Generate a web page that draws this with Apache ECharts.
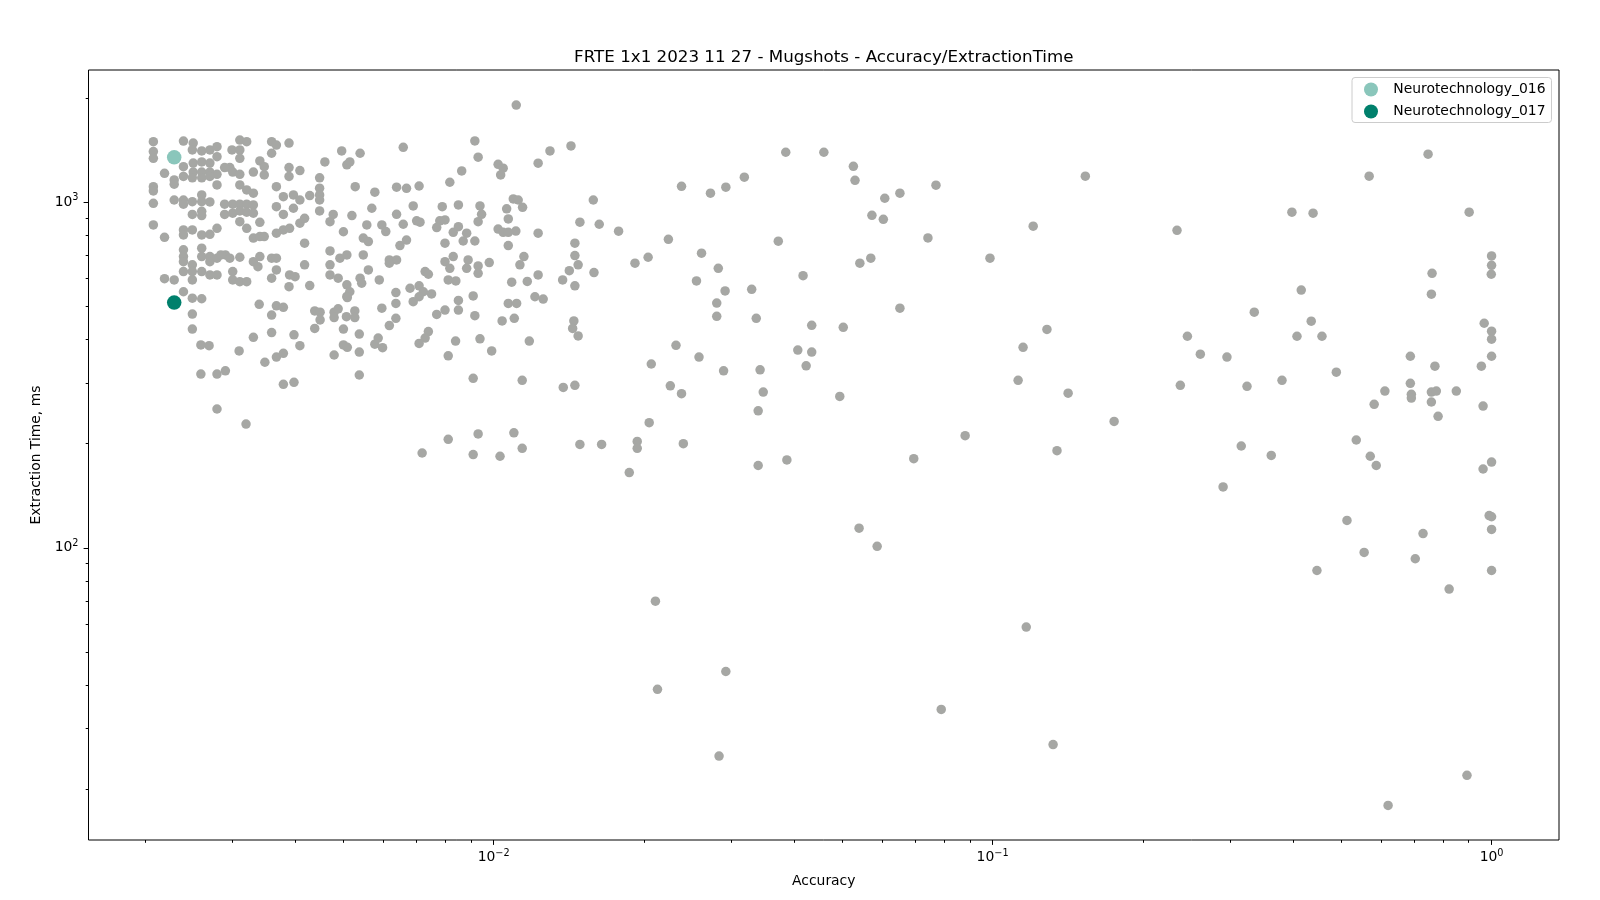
<!DOCTYPE html>
<html>
<head>
<meta charset="utf-8">
<script src="https://cdn.jsdelivr.net/npm/echarts@6/dist/echarts.min.js"></script>
<style>
html,body{margin:0;padding:0;background:#ffffff;}
#chart{width:1600px;height:900px;}
</style>
</head>
<body>
<div id="chart"></div>
<script>
// ---------- DATA ----------
const chartTitle = 'FRTE 1x1 2023 11 27 - Mugshots - Accuracy/ExtractionTime';
const xAxisName = 'Accuracy';
const yAxisName = 'Extraction Time, ms';
const legendNames = ['Neurotechnology_016', 'Neurotechnology_017'];

// other algorithms (grey points): accuracy and extraction time (ms), parallel arrays
const otherAccuracy = [
  0.00208,0.00208,0.00208,0.00208,0.00208,0.00208,0.00208,0.00219,0.00219,0.00239,
  0.0025,0.00249,0.0026,0.0027,0.00279,0.00279,0.00239,0.0025,0.0026,0.0027,
  0.0025,0.0026,0.0027,0.00279,0.00239,0.00249,0.0026,0.0027,0.00229,0.00229,
  0.00279,0.00229,0.00239,0.00239,0.00249,0.0026,0.0026,0.0027,0.0026,0.00249,
  0.0026,0.00279,0.00239,0.00249,0.00239,0.0026,0.0027,0.00239,0.00239,0.00239,
  0.0026,0.0026,0.0027,0.0027,0.00279,0.0029,0.00249,0.00249,0.0026,0.0027,
  0.00279,0.00239,0.00249,0.00219,0.00229,0.00239,0.00249,0.0026,
  0.0031,0.0032,0.00299,0.0031,0.0031,0.00296,0.00289,0.003,0.0031,0.0033,
  0.0034,0.00347,0.00347,0.00359,0.00367,0.00389,0.00359,0.00389,0.00409,0.00389,
  0.00459,0.00448,0.00448,0.00448,0.00448,0.00428,0.00379,0.00397,0.00367,0.0031,
  0.0032,0.0033,0.00289,0.003,0.0031,0.0032,0.0033,0.00289,0.003,0.0031,
  0.0032,0.0033,0.0031,0.0032,0.0034,0.0033,0.0034,0.00347,0.00367,0.00367,
  0.00379,0.0039,0.00379,0.00397,0.00409,0.00409,0.00418,0.00418,0.00448,0.0047,
  0.00477,0.00496,0.00508,0.00515,0.0054,0.00528,0.0052,0.005,0.00557,
  0.0031,0.0033,0.00337,0.0034,0.00359,0.00367,0.00367,0.00359,0.0039,0.004,
  0.00418,0.00389,0.00428,0.0047,0.0047,0.0047,0.00488,0.00492,0.00508,0.00508,
  0.00515,0.00508,0.0054,0.00544,0.00548,0.00548,0.00561,0.00561,0.003,0.003,
  0.0031,0.0032,0.00284,0.00296,
  0.00249,0.00249,0.00259,0.00269,0.00259,0.00279,0.0029,0.00279,0.00319,0.00309,
  0.0033,0.00339,0.00359,0.00367,0.00379,0.00359,0.00348,0.00367,0.00379,0.00398,
  0.00409,0.00379,0.00398,0.00438,0.00449,0.00449,0.00438,0.00479,0.00488,0.00479,
  0.00507,0.00527,0.00527,0.005,0.00538,0.00509,0.005,0.00509,0.00479,0.00538,
  0.00538,0.00578,
  0.00659,0.00917,0.00931,0.00863,0.00817,0.01021,0.01045,0.01033,0.01228,0.01297,
  0.01429,0.01584,0.01489,0.01628,0.00578,0.00639,0.00669,0.00709,0.0057,0.00639,
  0.0069,0.00659,0.00701,0.00712,0.00597,0.00608,0.00669,0.00649,0.00618,0.00639,
  0.00618,0.0059,0.00729,0.0074,0.00637,0.0068,0.00709,0.00723,0.00751,0.00709,
  0.0069,0.00637,0.00789,0.0085,0.00939,0.00946,0.00931,0.0078,0.00799,0.00769,
  0.0083,0.0085,0.00883,0.00869,0.00917,0.00799,0.0083,0.00799,0.00817,0.00889,
  0.00883,0.00931,0.00931,0.0098,0.00811,0.0084,0.0091,0.0085,0.01062,0.01095,
  0.0112,0.01143,0.0107,0.01021,0.01045,0.0107,0.01108,0.0107,0.01228,0.0115,
  0.01129,0.01228,0.01087,0.01168,0.0121,0.01257,0.0107,0.01112,0.01455,0.01455,
  0.01477,0.01418,0.01375,0.01455,0.01589,
  0.00597,0.0085,0.00799,0.00769,0.00917,0.00637,0.00618,0.00587,0.00599,0.0074,
  0.00729,0.00709,0.00839,0.00811,0.00939,0.00991,0.0104,0.011,0.01179,0.01448,
  0.0144,0.01477,0.0091,0.01141,0.01379,0.01455,0.00811,0.00931,0.01098,0.00719,
  0.0091,0.0103,0.01141,0.01489,0.01646,
  0.0111,
  0.0385,0.0459,0.0526,0.053,0.0318,0.0238,0.0272,0.0292,0.077,0.0608,
  0.0652,0.0573,0.0604,0.0742,0.0988,0.0178,0.0224,0.0372,0.0261,0.0204,
  0.0192,0.0282,0.0255,0.0417,0.0542,0.057,0.0291,0.0329,0.028,0.028,
  0.0336,0.0652,0.0434,0.0502,0.0232,0.0258,0.0207,0.0289,0.0342,0.0407,
  0.0434,0.0423,0.0226,0.0238,0.0347,0.0339,0.0494,0.0205,0.0194,0.0194,
  0.024,0.0187,0.0339,0.0387,0.0695,0.0881,
  0.054,0.0587,0.0211,0.0292,0.0213,0.0789,0.0283,
  0.746,0.1534,0.5684,0.1206,0.2342,0.398,0.4388,0.9018,1.0,1.0,
  0.9986,0.7599,0.7575,0.4155,0.3345,0.4351,0.4074,0.4572,0.2457,0.1285,
  0.1151,0.2608,0.2949,0.9665,1.0,1.0,1.0,0.954,0.6874,0.77,
  0.1125,0.1417,0.2378,0.3235,0.3802,0.4885,0.6874,0.6112,0.6906,0.6906,
  0.7575,0.775,0.8498,0.7575,0.5817,0.7813,0.9616,0.1752,0.1346,0.315,
  0.3618,0.5356,0.5713,0.5873,1.0,0.9616,0.2897,
  0.5131,0.7289,0.5554,0.7032,0.4467,0.989,1.0,1.0,1.0,0.8222,
  0.1168,0.1322,0.8927,0.6203
];
const otherTimeMs = [
  1494,1398,1337,1107,1076,991,858,1210,790,1500,
  1480,1414,1404,1414,1445,1352,1265,1295,1305,1295,
  1220,1220,1220,1202,1185,1174,1174,1185,1158,1125,
  1120,1013,1013,985,1002,1048,1002,1000,940,920,
  913,839,830,830,803,803,806,727,695,672,
  735,695,695,672,688,703,658,629,629,615,
  615,629,595,600,595,550,527,525,
  1510,1494,1414,1414,1337,1257,1257,1220,1202,1220,
  1314,1265,1197,1494,1460,1480,1383,1257,1232,1185,
  1305,1174,1096,1048,1013,1043,1036,1048,1107,1120,
  1083,1060,985,985,985,985,980,920,928,942,
  934,928,877,839,873,786,794,794,969,812,
  830,839,920,959,1013,868,897,760,942,877,
  920,1404,1280,1305,1383,1107,913,820,858,
  692,672,650,695,688,688,636,602,615,608,
  658,569,573,722,658,615,602,688,703,576,
  550,533,602,582,703,786,768,636,629,595,
  588,588,703,688,
  474,429,386,384,318,318,325,252,228,371,
  406,506,471,501,496,419,344,356,365,413,
  384,297,301,484,480,456,431,480,491,463,
  466,484,463,429,415,529,386,380,361,368,
  316,388,
  1439,1501,1347,1229,1140,1285,1252,1197,1294,1404,
  1452,1013,874,862,1067,1103,1095,1112,959,921,
  974,862,882,874,858,821,776,748,680,680,
  665,595,629,618,547,563,572,550,542,532,
  515,509,969,980,974,921,877,882,887,843,
  817,848,812,771,771,760,695,672,643,680,
  643,653,622,668,595,591,535,519,955,1020,
  1013,965,893,835,817,817,824,748,812,695,
  658,615,586,589,532,524,509,509,760,700,
  658,633,595,572,625,
  493,487,487,473,469,461,439,404,379,422,
  404,390,396,359,402,371,453,461,396,453,
  431,410,309,305,291,295,206,213.5,215,188,
  186,184,194,199,199,
  1906,
  1392,1392,1268,1155,1179,1110,1060,1103,1118,1025,
  1060,915,891,787,688,823,780,770,711,692,
  665,643,591,612,665,688,553,559,510,467,
  461,493,440,434,385,356,340,325,327,373,
  368,336,294,279,282,249,274,230,203,194,
  200,165,173,179.5,181,211,
  114,101,70.1,43.9,39.0,34.1,25.0,
  1374,1187,1187,851,828,934,928,934,698,656,
  618,622,541,556,480,452,409,409,409,428,
  380,363,356,446,423,401,358,335,358,335,
  305,280,295,293,305,322,299,284,278,271,
  282,284,284,264,260,240,257,232,191,197,
  185,205,184,173,177,169,150,
  120,110,97,93,86,124,123,113,86,76,
  59,27,22,18
];

// highlighted algorithms
const neuro016Accuracy = [0.00229];
const neuro016TimeMs = [1346];
const neuro017Accuracy = [0.00229];
const neuro017TimeMs = [512];

// axis ticks (data units)
const xMajorTicks = [0.01, 0.1, 1];
const yMajorTicks = [100, 1000];
const xMinorTicks = [0.002,0.003,0.004,0.005,0.006,0.007,0.008,0.009,
                     0.02,0.03,0.04,0.05,0.06,0.07,0.08,0.09,
                     0.2,0.3,0.4,0.5,0.6,0.7,0.8,0.9];
const yMinorTicks = [20,30,40,50,60,70,80,90,200,300,400,500,600,700,800,900,2000];
// visible axis range (data units)
const xRange = [0.001542, 1.365];
const yRange = [14.3, 2407];

// ---------- CHART ----------
const FONT = 'DejaVu Sans';
const lg = Math.log10;
const toPairs = (xs, ys) => xs.map((x, i) => [lg(x), lg(ys[i])]);
const supText = n => (n < 0 ? '\u2212' + (-n) : String(n));
const powLabel = v => '{b|10}{s|' + supText(Math.round(v)) + '}';
const richLab = {
  b: { fontSize: 13.9, fontFamily: FONT, color: '#000', lineHeight: 18 },
  s: { fontSize: 9.7, fontFamily: FONT, color: '#000', lineHeight: 9, verticalAlign: 'top' }
};

const chart = echarts.init(document.getElementById('chart'), null, { renderer: 'canvas' });

const tickStyle = { color: '#000', width: 1 };

const option = {
  animation: false,
  backgroundColor: '#ffffff',
  grid: {
    left: 88.5, right: 41, top: 70, bottom: 60,
    show: true, borderColor: '#000', borderWidth: 1, backgroundColor: 'transparent'
  },
  graphic: [{
    type: 'text', x: 823.8, y: 58,
    style: {
      text: chartTitle, font: '16.7px "DejaVu Sans"', fill: '#000',
      textAlign: 'center', textVerticalAlign: 'middle'
    }
  }],
  legend: {
    data: legendNames,
    orient: 'vertical', left: 1352, top: 77.5,
    icon: 'circle', itemWidth: 34.5, itemHeight: 14, itemGap: 8,
    padding: [5, 6, 4, 12],
    backgroundColor: 'rgba(255,255,255,0.8)',
    borderColor: '#cccccc', borderWidth: 1, borderRadius: 3,
    textStyle: { fontSize: 13.9, fontFamily: FONT, color: '#000', lineHeight: 14 }
  },
  xAxis: [{
    type: 'value', gridIndex: 0, position: 'bottom',
    min: lg(xRange[0]), max: lg(xRange[1]),
    axisLine: { show: false, onZero: false },
    splitLine: { show: false },
    axisTick: { show: true, inside: false, length: 4.9, lineStyle: tickStyle, customValues: xMajorTicks.map(lg) },
    axisLabel: { show: true, margin: 8, customValues: xMajorTicks.map(lg), formatter: powLabel, rich: richLab },
    name: xAxisName, nameLocation: 'middle', nameGap: 34,
    nameTextStyle: { fontSize: 13.9, fontFamily: FONT, color: '#000' }
  }, {
    type: 'value', gridIndex: 0, position: 'bottom',
    min: lg(xRange[0]), max: lg(xRange[1]),
    axisLine: { show: false, onZero: false },
    splitLine: { show: false },
    axisTick: { show: true, inside: false, length: 2.8, lineStyle: tickStyle, customValues: xMinorTicks.map(lg) },
    axisLabel: { show: false, customValues: xMinorTicks.map(lg) }
  }],
  yAxis: [{
    type: 'value', gridIndex: 0, position: 'left',
    min: lg(yRange[0]), max: lg(yRange[1]),
    axisLine: { show: false, onZero: false },
    splitLine: { show: false },
    axisTick: { show: true, inside: false, length: 4.9, lineStyle: tickStyle, customValues: yMajorTicks.map(lg) },
    axisLabel: { show: true, margin: 10, customValues: yMajorTicks.map(lg), formatter: powLabel, rich: richLab },
    name: yAxisName, nameLocation: 'middle', nameGap: 39, nameRotate: 90,
    nameTextStyle: { fontSize: 13.9, fontFamily: FONT, color: '#000' }
  }, {
    type: 'value', gridIndex: 0, position: 'left',
    min: lg(yRange[0]), max: lg(yRange[1]),
    axisLine: { show: false, onZero: false },
    splitLine: { show: false },
    axisTick: { show: true, inside: false, length: 2.8, lineStyle: tickStyle, customValues: yMinorTicks.map(lg) },
    axisLabel: { show: false, customValues: yMinorTicks.map(lg) }
  }],
  series: [{
    name: 'Other algorithms', type: 'scatter', xAxisIndex: 0, yAxisIndex: 0,
    symbol: 'circle', symbolSize: 9.5,
    itemStyle: { color: '#a6a7a4', opacity: 1 },
    data: toPairs(otherAccuracy, otherTimeMs), z: 2
  }, {
    name: legendNames[0], type: 'scatter', xAxisIndex: 0, yAxisIndex: 0,
    symbol: 'circle', symbolSize: 14.5,
    itemStyle: { color: '#8ac6bb', opacity: 1 },
    data: toPairs(neuro016Accuracy, neuro016TimeMs), z: 3
  }, {
    name: legendNames[1], type: 'scatter', xAxisIndex: 0, yAxisIndex: 0,
    symbol: 'circle', symbolSize: 14.5,
    itemStyle: { color: '#00806c', opacity: 1 },
    data: toPairs(neuro017Accuracy, neuro017TimeMs), z: 3
  }]
};
chart.setOption(option);
</script>
</body>
</html>
